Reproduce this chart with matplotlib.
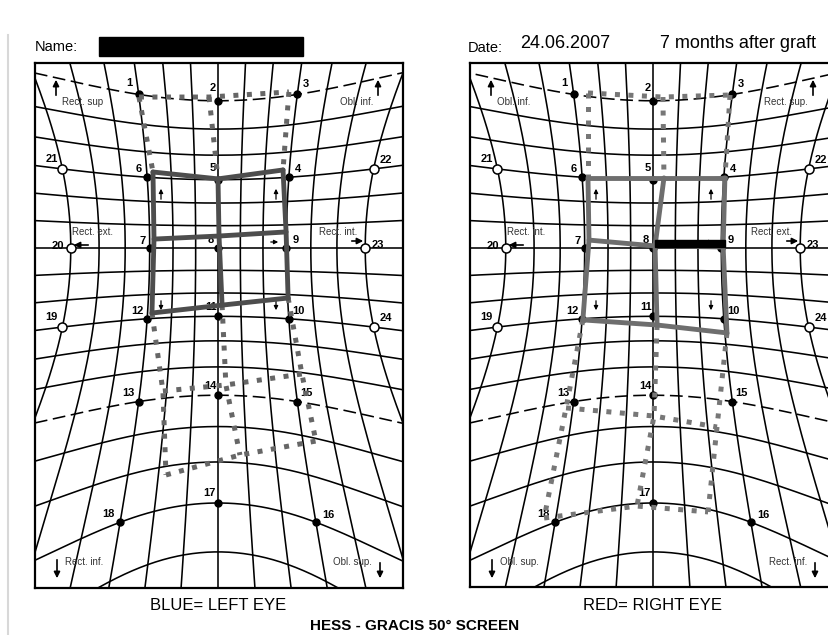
import matplotlib.pyplot as plt
import numpy as np
from matplotlib.patches import Rectangle

plt.rcParams['font.family'] = ['Liberation Sans', 'DejaVu Sans']

W, H = 829, 635
S = 255.0  # pixels per tangent unit of the printed screen

# Hess screen reference points (azimuth, elevation in degrees)
ref_num = list(range(1, 25))
ref_az = [-15, 0, 15, 15, 0, -15, -15, 0, 15, 15, 0, -15,
          -15, 0, 15, 15, 0, -15, -30, -30, -30, 30, 30, 30]
ref_el = [30, 30, 30, 15, 15, 15, 0, 0, 0, -15, -15, -15,
          -30, -30, -30, -45, -45, -45, -15, 0, 15, 15, 0, -15]
# label offset from its point, pixels (right, down)
lab_dx = [-9, -5, 9, 9, -5, -8, -7, -7, 9, 10, -7, -10,
          -10, -8, 9, 12, -9, -12, -11, -13, -11, 12, 13, 12]
lab_dy = [-11, -13, -10, -8, -12, -8, -7, -8, -8, -8, -9, -8,
          -9, -9, -9, -7, -10, -8, -10, -2, -10, -9, -3, -9]

# measured positions in tangent units (x right, y up)
# inner field rows: 6 5 4 / 7 8 9 / 12 11 10
# outer field rows: 1 2 3 / 13 14 15 / 18 17 16
le_inner_x = [[-0.255, 0.000, 0.255], [-0.251, 0.004, 0.267], [-0.259, 0.016, 0.275]]
le_inner_y = [[0.298, 0.271, 0.306], [0.035, 0.047, 0.063], [-0.255, -0.224, -0.196]]
le_outer_x = [[-0.310, -0.035, 0.278], [-0.216, 0.031, 0.329], [-0.204, 0.086, 0.384]]
le_outer_y = [[0.592, 0.592, 0.612], [-0.561, -0.537, -0.494], [-0.890, -0.812, -0.757]]

re_inner_x = [[-0.255, 0.043, 0.282], [-0.251, 0.008, 0.275], [-0.275, 0.016, 0.290]]
re_inner_y = [[0.275, 0.275, 0.275], [0.031, 0.008, 0.004], [-0.282, -0.302, -0.333]]
re_outer_x = [[-0.255, 0.039, 0.302], [-0.341, 0.004, 0.251], [-0.427, -0.063, 0.216]]
re_outer_y = [[0.608, 0.592, 0.600], [-0.627, -0.659, -0.702], [-1.059, -1.012, -1.035]]


def screen(az, el):
    # curved Hess grid: degrees -> tangent units
    a = np.radians(az)
    e = np.radians(el)
    ky = 1 + 1.1 * (np.abs(el) / 45.0) ** 4
    kx = 1 + 3.0 * (np.abs(az) / 45.0) ** 4
    return np.tan(a) / np.cos(e) ** kx, np.tan(e) / np.cos(a) ** ky


def u(dx, dy):
    return dx / S, -dy / S


def draw_panel(box, center, muscles, ix, iy, ox, oy, solid_col, dot_col):
    x0, y0, x1, y1 = box
    cx, cy = center
    ax = fig.add_axes([x0 / W, 1 - y1 / H, (x1 - x0) / W, (y1 - y0) / H])
    ax.set_xlim((x0 - cx) / S, (x1 - cx) / S)
    ax.set_ylim((cy - y1) / S, (cy - y0) / S)
    ax.set_xticks([])
    ax.set_yticks([])
    for sp in ax.spines.values():
        sp.set_linewidth(1.6)

    # grid
    el_s = np.linspace(-80, 50, 400)
    for az in range(-30, 31, 5):
        gx, gy = screen(np.full_like(el_s, az), el_s)
        ax.plot(gx, gy, color='black', lw=1.15, zorder=1)
    az_s = np.linspace(-70, 70, 400)
    for el in range(-60, 31, 5):
        gx, gy = screen(az_s, np.full_like(az_s, el))
        if abs(el) == 30:
            ax.plot(gx, gy, color='black', lw=1.15, ls=(0, (8, 3.5)), zorder=1)
        else:
            ax.plot(gx, gy, color='black', lw=1.15, zorder=1)

    # reference points and numbers
    px, py = screen(np.array(ref_az, float), np.array(ref_el, float))
    for i, n in enumerate(ref_num):
        if n <= 18:
            ax.plot(px[i], py[i], 'o', ms=5, color='black', zorder=3)
        else:
            ax.plot(px[i], py[i], 'o', ms=6.5, mfc='white', mec='black', mew=1.1, zorder=3)
        ax.annotate(str(n), (px[i], py[i]), xytext=(lab_dx[i], -lab_dy[i]),
                    textcoords='offset pixels', ha='center', va='center',
                    fontsize=8, fontweight='bold', zorder=3)

    # muscle names and arrows
    tl, tr, ml, mr, bl, br = muscles
    fs = 7
    ax.text(*u(-156, -146), tl, fontsize=fs, color='#333333', ha='left', va='center')
    ax.text(*u(155, -146), tr, fontsize=fs, color='#333333', ha='right', va='center')
    ax.text(*u(-146, -16), ml, fontsize=fs, color='#333333', ha='left', va='center')
    ax.text(*u(139, -16), mr, fontsize=fs, color='#333333', ha='right', va='center')
    ax.text(*u(-153, 314), bl, fontsize=fs, color='#333333', ha='left', va='center')
    ax.text(*u(154, 314), br, fontsize=fs, color='#333333', ha='right', va='center')
    arr = dict(arrowstyle='-|>', color='black', lw=1.2, mutation_scale=9)
    small = dict(arrowstyle='-|>', color='black', lw=0.9, mutation_scale=6)
    for tail, tip, st in [((-162, -150), (-162, -171), arr), ((160, -150), (160, -171), arr),
                          ((-127, -3), (-147, -3), arr), ((131, -7), (148, -7), arr),
                          ((-161, 309), (-161, 333), arr), ((162, 312), (162, 333), arr),
                          ((-57, -46), (-57, -62), small), ((58, -46), (58, -62), small),
                          ((-57, 50), (-57, 65), small), ((58, 50), (58, 65), small),
                          ((50, -6), (63, -6), small)]:
        ax.annotate('', xy=u(*tip), xytext=u(*tail), arrowprops=st, zorder=2)

    # measured fields
    ix, iy, ox, oy = map(np.array, (ix, iy, ox, oy))
    dots = dict(color=dot_col, lw=3.6, ls=(0, (1, 1.7)), dash_capstyle='butt', zorder=4)
    for r in range(3):
        ax.plot(ox[r], oy[r], **dots)
    for c in range(3):
        ax.plot([ox[0, c], ix[0, c]], [oy[0, c], iy[0, c]], **dots)
        ax.plot([ix[2, c], ox[1, c], ox[2, c]], [iy[2, c], oy[1, c], oy[2, c]], **dots)
    line = dict(color=solid_col, lw=3.5, solid_capstyle='round', zorder=5)
    for r in range(3):
        ax.plot(ix[r], iy[r], **line)
    for c in range(3):
        ax.plot(ix[:, c], iy[:, c], **line)
    return ax


fig = plt.figure(figsize=(W / 100, H / 100), dpi=100)

draw_panel((35, 63, 403, 588), (218, 248),
           ['Rect. sup', 'Obl. inf.', 'Rect. ext.', 'Rect. int.', 'Rect. inf.', 'Obl. sup.'],
           le_inner_x, le_inner_y, le_outer_x, le_outer_y, '#4d4d4d', '#666666')
draw_panel((470, 63, 836, 587), (653, 248),
           ['Obl. inf.', 'Rect. sup.', 'Rect. int.', 'Rect. ext.', 'Obl. sup.', 'Rect. inf.'],
           re_inner_x, re_inner_y, re_outer_x, re_outer_y, '#6e6e6e', '#777777')

# page text and redactions
top = fig.add_axes([0, 0, 1, 1], zorder=10)
top.set_xlim(0, W)
top.set_ylim(H, 0)
top.axis('off')
top.plot([8, 8], [35, H], color='#d8d8d8', lw=1.5)
top.text(35, 47, 'Name:', fontsize=10.5, va='center')
top.add_patch(Rectangle((99, 37), 204, 19, color='black'))
top.text(468, 48, 'Date:', fontsize=10.5, va='center')
top.text(520, 44, '24.06.2007', fontsize=13, va='center')
top.text(660, 44, '7 months after graft', fontsize=13, va='center')
top.add_patch(Rectangle((655, 240), 70, 7, color='black'))
top.text(218, 606, 'BLUE= LEFT EYE', fontsize=12, ha='center', va='center')
top.text(653, 606, 'RED= RIGHT EYE', fontsize=12, ha='center', va='center')
top.text(415, 626, 'HESS - GRACIS 50° SCREEN', fontsize=11, fontweight='bold',
         ha='center', va='center')

fig.savefig('out.png', dpi=100)
